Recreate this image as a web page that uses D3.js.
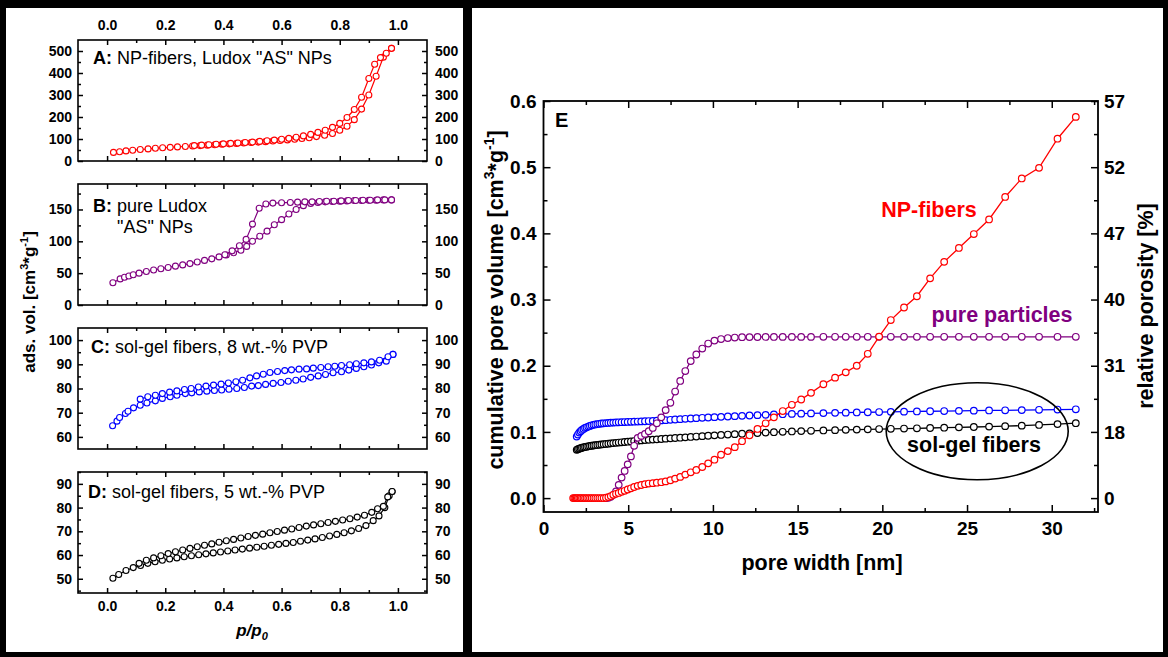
<!DOCTYPE html>
<html>
<head>
<meta charset="utf-8">
<script src="https://cdn.jsdelivr.net/npm/d3@7/dist/d3.min.js"></script>
<style>
html,body{margin:0;padding:0;background:#000;}
svg{display:block;}
</style>
</head>
<body>
<svg id="chart" width="1168" height="657"></svg>
<script>
// ================= DATA : panels A-D (N2 sorption isotherms) =================
const pTicks = [0.0, 0.2, 0.4, 0.6, 0.8, 1.0];
const pMinor = [0.1, 0.3, 0.5, 0.7, 0.9];

// A: NP-fibers, Ludox "AS" NPs
const aTicks = [0, 100, 200, 300, 400, 500];
const aMinor = [50, 150, 250, 350, 450];
const aAdsP = [0.022,0.043,0.065,0.088,0.114,0.141,0.166,0.191,0.217,0.242,0.269,0.294,0.32,0.345,0.37,0.395,0.42,0.445,0.47,0.495,0.52,0.545,0.57,0.595,0.62,0.645,0.67,0.695,0.72,0.748,0.775,0.8,0.825,0.85,0.875,0.9,0.925,0.95,0.978];
const aAdsV = [39,42,46,49,52,55,58,60,62,64,66,68,70,72,74,76,78,80,82,84,86,88,91,93,96,99,102,106,111,117,125,140,158,188,236,300,385,472,512];
const aDesP = [0.978,0.96,0.94,0.92,0.9,0.875,0.85,0.825,0.8,0.775,0.75,0.725,0.7,0.675,0.65,0.625,0.6,0.575,0.55,0.525,0.5,0.475,0.45,0.425,0.4,0.375,0.35,0.325,0.3];
const aDesV = [512,490,470,440,375,290,234,198,171,153,140,130,121,114,108,103,99,95,92,89,86,84,82,80,78,76,74,72,70];

// B: pure Ludox "AS" NPs
const bTicks = [0, 50, 100, 150];
const bMinor = [25, 75, 125, 175];
const bAdsP = [0.02,0.045,0.06,0.075,0.09,0.11,0.135,0.16,0.185,0.21,0.235,0.26,0.285,0.31,0.335,0.36,0.385,0.41,0.435,0.46,0.48,0.5,0.525,0.55,0.575,0.6,0.625,0.65,0.675,0.7,0.725,0.75,0.775,0.8,0.825,0.85,0.875,0.9,0.925,0.95,0.978];
const bAdsV = [35,41,43.5,45.5,47.5,50,52.5,55,57,59,61,63,65,67.5,70,72.5,75.5,78.5,82,86,92,100,108,116,126,134,143,150,156,159.5,161,162,162.5,163,163.5,164,164,164.5,164.5,165,165];
const bDesP = [0.978,0.955,0.93,0.905,0.88,0.855,0.83,0.805,0.78,0.755,0.73,0.705,0.68,0.655,0.63,0.6,0.57,0.546,0.523,0.5,0.478,0.455,0.43,0.405];
const bDesV = [165,165,165,164.5,164.5,164,164,163.5,163,163,162.5,162,162,161.5,161,160.5,160,158.5,152,127,103,93,85,79];

// C: sol-gel fibers, 8 wt.-% PVP
const cTicks = [60, 70, 80, 90, 100];
const cMinor = [65, 75, 85, 95];
const cAdsP = [0.019,0.034,0.043,0.063,0.072,0.091,0.114,0.137,0.166,0.19,0.217,0.24,0.269,0.291,0.317,0.343,0.369,0.394,0.419,0.446,0.472,0.497,0.52,0.545,0.571,0.598,0.623,0.649,0.674,0.70,0.726,0.751,0.777,0.806,0.831,0.857,0.883,0.909,0.934,0.96,0.983];
const cAdsV = [64.6,66.5,68,69.7,70.6,72,73.1,74,74.9,75.9,76.6,77.2,77.9,78.2,78.6,78.9,79.2,79.4,79.7,80,80.4,81,81.2,81.7,82.1,82.5,83,83.4,83.9,84.6,85.2,85.8,86.5,86.9,87.6,88.3,89,89.7,90.6,91.3,94.1];
const cDesP = [0.983,0.966,0.937,0.909,0.883,0.857,0.834,0.806,0.783,0.76,0.735,0.709,0.686,0.66,0.634,0.611,0.586,0.56,0.537,0.514,0.491,0.466,0.443,0.417,0.392,0.366,0.34,0.314,0.289,0.266,0.24,0.215,0.19,0.166,0.14,0.114];
const cDesV = [94.1,93.1,91.7,91,90.6,90.2,89.8,89.5,89.2,89,88.7,88.4,88.1,88,87.7,87.4,87,86.6,85.9,85.2,84.4,83.4,82.8,82.3,81.8,81.4,81,80.6,80,79.6,79,78.5,77.9,77.2,76.6,75.6];

// D: sol-gel fibers, 5 wt.-% PVP
const dTicks = [50, 60, 70, 80, 90];
const dMinor = [45, 55, 65, 75, 85, 95];
const dAdsP = [0.02,0.04,0.065,0.09,0.115,0.14,0.165,0.19,0.215,0.24,0.265,0.29,0.315,0.34,0.365,0.39,0.415,0.44,0.465,0.49,0.515,0.54,0.565,0.59,0.615,0.64,0.665,0.69,0.715,0.74,0.765,0.79,0.815,0.84,0.865,0.89,0.915,0.935,0.955,0.97,0.98];
const dAdsV = [50.2,51.8,53.5,54.7,55.6,56.5,57.2,57.8,58.3,58.8,59.3,59.7,60.1,60.5,60.9,61.3,61.7,62.1,62.5,62.9,63.3,63.7,64.1,64.5,64.9,65.3,65.8,66.3,66.8,67.4,68,68.7,69.4,70.2,71.2,72.4,74.5,76.5,80,85,86.8];
const dDesP = [0.98,0.965,0.95,0.93,0.91,0.885,0.86,0.835,0.81,0.785,0.76,0.735,0.71,0.685,0.66,0.635,0.61,0.585,0.56,0.535,0.51,0.485,0.46,0.435,0.41,0.385,0.36,0.335,0.31,0.285,0.26,0.235,0.21,0.185,0.16,0.135,0.11];
const dDesV = [86.8,84.5,80.5,79.5,78,76.8,76,75.3,74.8,74.2,73.7,73.2,72.7,72.2,71.6,71,70.5,69.9,69.4,68.8,68.3,67.8,67.2,66.6,66,65.4,64.7,64.1,63.5,62.8,62.1,61.4,60.6,59.7,58.8,57.8,56.5];

// ================= DATA : panel E (cumulative pore volume) =================
const widthTicks = [0, 5, 10, 15, 20, 25, 30];
const widthMinor = [2.5, 7.5, 12.5, 17.5, 22.5, 27.5, 32.5];
const volTicks = [0.0, 0.1, 0.2, 0.3, 0.4, 0.5, 0.6];
const volMinor = [0.05, 0.15, 0.25, 0.35, 0.45, 0.55];
const porosityLabels = ["0", "18", "31", "40", "47", "52", "57"];

const poreWidth = [1.75,1.82,1.89,1.96,2.03,2.11,2.19,2.27,2.36,2.45,2.54,2.64,2.74,2.84,2.95,3.06,3.18,3.30,3.42,3.55,3.69,3.83,3.97,4.12,4.28,4.44,4.61,4.79,4.97,5.16,5.35,5.56,5.77,5.99,6.21,6.45,6.69,6.95,7.21,7.49,7.77,8.07,8.37,8.69,9.02,9.37,9.72,10.09,10.48,10.88,11.29,11.72,12.16,12.63,13.11,13.60,14.12,14.66,15.21,15.79,16.52,17.21,17.84,18.49,19.14,19.81,20.50,21.28,22.04,22.82,23.65,24.52,25.40,26.30,27.25,28.23,29.25,30.34,31.42];

const volNPfibers = [0,0,0,0,0,0,0,0,0,0,0,0,0,0,0,0,0,0,0,0,
 0.0005,0.0015,0.003,0.005,0.0065,0.0078,0.0095,0.011,0.013,0.0148,0.0168,0.0185,0.0198,0.021,0.022,0.0226,0.0233,0.024,0.0252,0.027,
 0.0295,0.032,0.0355,0.039,0.0425,0.047,0.0525,0.058,0.0655,0.071,0.077,0.086,0.095,0.1045,0.113,0.122,0.1315,0.141,0.149,0.159,
 0.172,0.182,0.190,0.200,0.218,0.244,0.269,0.288,0.305,0.332,0.357,0.378,0.399,0.421,0.455,0.483,0.499,0.543,0.576];

const volPureParticles = [null,null,null,null,null,null,null,null,null,null,null,null,null,null,null,null,null,null,null,null,
 0,0.0005,0.002,0.005,0.010,0.020,0.031,0.041,0.051,0.063,0.079,0.091,0.094,0.097,0.101,0.106,0.113,0.122,0.133,0.144,
 0.161,0.177,0.192,0.207,0.217,0.226,0.2335,0.238,0.2403,0.2418,0.2426,0.2431,0.2433,0.2434,0.2435,0.2435,0.2436,0.2436,0.2436,0.2436,
 0.2437,0.2437,0.2437,0.2437,0.2437,0.2437,0.2437,0.2437,0.2437,0.2437,0.2437,0.2437,0.2437,0.2437,0.2437,0.2437,0.2437,0.2437,0.2437];

const volSolGel8 = [null,null,null,
 0.093,0.096,0.099,0.101,0.103,0.1045,0.106,0.107,0.108,0.109,0.110,0.1107,0.1113,0.1118,0.1123,0.1127,0.113,
 0.1133,0.1136,0.1139,0.1141,0.1143,0.1145,0.1147,0.1149,0.1151,0.1153,0.1155,0.1157,0.1159,0.1161,0.1164,0.1167,0.117,0.1174,0.1178,0.1183,
 0.1188,0.1193,0.1198,0.1203,0.1208,0.1213,0.1218,0.1223,0.1228,0.1233,0.1238,0.1243,0.1248,0.1253,0.1258,0.1263,0.1268,0.1272,0.1276,0.128,
 0.1284,0.1288,0.1291,0.1294,0.1297,0.13,0.1303,0.1306,0.1309,0.1312,0.1315,0.1318,0.1321,0.1324,0.1327,0.133,0.1334,0.1338,0.1342];

const volSolGel5 = [null,null,null,
 0.073,0.0738,0.0746,0.0754,0.0761,0.0767,0.0772,0.0777,0.0782,0.0787,0.0791,0.0795,0.0799,0.0803,0.0807,0.0811,0.0815,
 0.0819,0.0823,0.0827,0.0831,0.0835,0.0839,0.0843,0.0848,0.0852,0.0857,0.0862,0.0867,0.0872,0.0876,0.088,0.0884,0.0888,0.0893,0.0898,0.0903,
 0.0908,0.0913,0.0918,0.0924,0.093,0.0936,0.0942,0.0948,0.0954,0.096,0.0966,0.0972,0.0978,0.0984,0.099,0.0996,0.1002,0.1007,0.1012,0.1017,
 0.1022,0.1027,0.1031,0.1035,0.1039,0.1043,0.1047,0.1051,0.1055,0.1059,0.1064,0.1069,0.1074,0.108,0.1087,0.1095,0.1105,0.1118,0.1132];

// ================= DRAWING =================
const FONT = '"Liberation Sans", Arial, Helvetica, sans-serif';
const svg = d3.select("#chart");

svg.append("rect").attr("x", 0).attr("y", 0).attr("width", 1168).attr("height", 657).attr("fill", "#000");
svg.append("rect").attr("x", 6).attr("y", 8).attr("width", 457).attr("height", 644).attr("fill", "#fff");
svg.append("rect").attr("x", 472).attr("y", 8).attr("width", 691).attr("height", 644).attr("fill", "#fff");

function styleAxis(sel, fs) {
  sel.attr("font-size", null).attr("font-family", null);
  sel.select(".domain").remove();
  sel.selectAll(".tick line").attr("stroke", "#000").attr("stroke-width", 1.5);
  sel.selectAll(".tick text").attr("fill", "#000")
    .style("font-size", fs + "px").style("font-weight", "bold").style("font-family", FONT);
}

function richText(parent, x, y, parts, fs, opt) {
  opt = opt || {};
  const t = parent.append("text").attr("x", x).attr("y", y)
    .style("font-family", FONT).style("font-size", fs + "px")
    .style("font-weight", opt.bold ? "bold" : "normal")
    .style("font-style", opt.italic ? "italic" : "normal")
    .attr("fill", opt.color || "#000")
    .attr("text-anchor", opt.anchor || "start");
  if (opt.rotate) t.attr("transform", `rotate(${opt.rotate},${x},${y})`);
  let shift = 0;
  parts.forEach(p => {
    const ts = t.append("tspan").text(p.t);
    const target = p.sup ? -0.42 * fs : (p.sub ? 0.22 * fs : 0);
    if (target - shift !== 0) ts.attr("dy", (target - shift).toFixed(2));
    shift = target;
    if (p.sup || p.sub) ts.style("font-size", (fs * 0.65) + "px");
    if (p.b) ts.style("font-weight", "bold");
  });
  return t;
}

// ---------- Left: panels A-D ----------
const xL = d3.scaleLinear().domain([-0.1, 1.1]).range([78, 427]);
const panelH = 121;
const fmtP = d3.format(".1f");

const panels = [
  { top: 40,  domain: [0, 550],  ticks: aTicks, minor: aMinor, color: "#ff0000", ads: [aAdsP, aAdsV], des: [aDesP, aDesV],
    label: [[{ t: "A:", b: true }, { t: " NP-fibers, Ludox \"AS\" NPs" }]], lx: [93], ly: [64] },
  { top: 184, domain: [0, 190],  ticks: bTicks, minor: bMinor, color: "#800080", ads: [bAdsP, bAdsV], des: [bDesP, bDesV],
    label: [[{ t: "B:", b: true }, { t: " pure Ludox" }], [{ t: "\"AS\" NPs" }]], lx: [93, 117], ly: [211.5, 232.5] },
  { top: 328, domain: [55, 105], ticks: cTicks, minor: cMinor, color: "#0000ff", ads: [cAdsP, cAdsV], des: [cDesP, cDesV],
    label: [[{ t: "C:", b: true }, { t: " sol-gel fibers, 8 wt.-% PVP" }]], lx: [91], ly: [352.5] },
  { top: 472, domain: [44, 95],  ticks: dTicks, minor: dMinor, color: "#000000", ads: [dAdsP, dAdsV], des: [dDesP, dDesV],
    label: [[{ t: "D:", b: true }, { t: " sol-gel fibers, 5 wt.-% PVP" }]], lx: [88], ly: [497.5] }
];

panels.forEach((pd, pi) => {
  const bottom = pd.top + panelH;
  const y = d3.scaleLinear().domain(pd.domain).range([bottom, pd.top]);
  const g = svg.append("g");

  // data
  const line = d3.line().x(d => xL(d[0])).y(d => y(d[1]));
  [pd.ads, pd.des].forEach(([P, V]) => {
    const pts = P.map((p, i) => [p, V[i]]);
    g.append("path").datum(pts).attr("d", line).attr("fill", "none")
      .attr("stroke", pd.color).attr("stroke-width", 1.2);
    g.selectAll(null).data(pts).enter().append("circle")
      .attr("cx", d => xL(d[0])).attr("cy", d => y(d[1])).attr("r", 3)
      .attr("fill", "#fff").attr("stroke", pd.color).attr("stroke-width", 1.1);
  });

  // axes (ticks inward)
  g.append("g").attr("transform", "translate(78,0)")
    .call(d3.axisLeft(y).tickValues(pd.ticks).tickSize(-5).tickPadding(6)).call(styleAxis, 14);
  g.append("g").attr("transform", "translate(78,0)")
    .call(d3.axisLeft(y).tickValues(pd.minor.filter(v => v >= pd.domain[0] && v <= pd.domain[1])).tickSize(-3).tickFormat("")).call(styleAxis, 14);
  g.append("g").attr("transform", "translate(427,0)")
    .call(d3.axisRight(y).tickValues(pd.ticks).tickSize(-5).tickPadding(8)).call(styleAxis, 14);
  g.append("g").attr("transform", "translate(427,0)")
    .call(d3.axisRight(y).tickValues(pd.minor.filter(v => v >= pd.domain[0] && v <= pd.domain[1])).tickSize(-3).tickFormat("")).call(styleAxis, 14);

  g.append("g").attr("transform", `translate(0,${pd.top})`)
    .call(d3.axisTop(xL).tickValues(pTicks).tickSize(-5).tickPadding(10.5).tickFormat(pi === 0 ? fmtP : () => "")).call(styleAxis, 14);
  g.append("g").attr("transform", `translate(0,${pd.top})`)
    .call(d3.axisTop(xL).tickValues(pMinor).tickSize(-3).tickFormat("")).call(styleAxis, 14);
  g.append("g").attr("transform", `translate(0,${bottom})`)
    .call(d3.axisBottom(xL).tickValues(pTicks).tickSize(-5).tickPadding(8).tickFormat(pi === 3 ? fmtP : () => "")).call(styleAxis, 14);
  g.append("g").attr("transform", `translate(0,${bottom})`)
    .call(d3.axisBottom(xL).tickValues(pMinor).tickSize(-3).tickFormat("")).call(styleAxis, 14);

  g.append("rect").attr("x", 78).attr("y", pd.top).attr("width", 349).attr("height", panelH)
    .attr("fill", "none").attr("stroke", "#000").attr("stroke-width", 1.6);

  pd.label.forEach((parts, li) => richText(g, pd.lx[li], pd.ly[li], parts, 18));
});

// left axis titles
richText(svg, 35, 302, [{ t: "ads. vol. [cm" }, { t: "3", sup: true }, { t: "*g" }, { t: "-1", sup: true }, { t: "]" }], 17,
  { bold: true, anchor: "middle", rotate: -90 });
richText(svg, 252, 636, [{ t: "p/p" }, { t: "0", sub: true }], 17, { bold: true, italic: true, anchor: "middle" });

// ---------- Right: panel E ----------
const xE = d3.scaleLinear().domain([0, 32.73]).range([543.5, 1098]);
const yE = d3.scaleLinear().domain([-0.021, 0.6]).range([512, 101]);
const gE = svg.append("g");

const seriesE = [
  { vals: volSolGel8, color: "#0000ff" },
  { vals: volSolGel5, color: "#000000" },
  { vals: volPureParticles, color: "#800080" },
  { vals: volNPfibers, color: "#ff0000" }
];
const lineE = d3.line().defined(d => d[1] !== null).x(d => xE(d[0])).y(d => yE(d[1]));
seriesE.forEach(s => {
  const pts = poreWidth.map((w, i) => [w, s.vals[i]]).filter(d => d[1] !== null);
  gE.append("path").datum(pts).attr("d", lineE).attr("fill", "none")
    .attr("stroke", s.color).attr("stroke-width", 1.3);
  gE.selectAll(null).data(pts).enter().append("circle")
    .attr("cx", d => xE(d[0])).attr("cy", d => yE(d[1])).attr("r", 3.3)
    .attr("fill", "#fff").attr("stroke", s.color).attr("stroke-width", 1.2);
});

// axes E
gE.append("g").attr("transform", "translate(0,512)")
  .call(d3.axisBottom(xE).tickValues(widthTicks).tickSize(-7).tickPadding(10)).call(styleAxis, 19);
gE.append("g").attr("transform", "translate(0,512)")
  .call(d3.axisBottom(xE).tickValues(widthMinor).tickSize(-4).tickFormat("")).call(styleAxis, 19);
gE.append("g").attr("transform", "translate(0,101)")
  .call(d3.axisTop(xE).tickValues(widthTicks).tickSize(-7).tickFormat("")).call(styleAxis, 19);
gE.append("g").attr("transform", "translate(0,101)")
  .call(d3.axisTop(xE).tickValues(widthMinor).tickSize(-4).tickFormat("")).call(styleAxis, 19);
gE.append("g").attr("transform", "translate(543.5,0)")
  .call(d3.axisLeft(yE).tickValues(volTicks).tickSize(-7).tickPadding(7).tickFormat(d3.format(".1f"))).call(styleAxis, 19);
gE.append("g").attr("transform", "translate(543.5,0)")
  .call(d3.axisLeft(yE).tickValues(volMinor).tickSize(-4).tickFormat("")).call(styleAxis, 19);
gE.append("g").attr("transform", "translate(1098,0)")
  .call(d3.axisRight(yE).tickValues(volTicks).tickSize(-7).tickPadding(6).tickFormat((d, i) => porosityLabels[i])).call(styleAxis, 19);
gE.append("g").attr("transform", "translate(1098,0)")
  .call(d3.axisRight(yE).tickValues(volMinor).tickSize(-4).tickFormat("")).call(styleAxis, 19);

gE.append("rect").attr("x", 543.5).attr("y", 101).attr("width", 1098 - 543.5).attr("height", 411)
  .attr("fill", "none").attr("stroke", "#000").attr("stroke-width", 1.8);

// annotations E
richText(gE, 555, 127, [{ t: "E" }], 20, { bold: true });
richText(gE, 929, 217, [{ t: "NP-fibers" }], 21.5, { bold: true, anchor: "middle", color: "#ff0000" });
richText(gE, 1002, 322, [{ t: "pure particles" }], 21.5, { bold: true, anchor: "middle", color: "#800080" });
richText(gE, 974, 452, [{ t: "sol-gel fibers" }], 21.5, { bold: true, anchor: "middle" });
gE.append("ellipse").attr("cx", xE(25.6)).attr("cy", yE(0.101)).attr("rx", 91).attr("ry", 48.5)
  .attr("fill", "none").attr("stroke", "#000").attr("stroke-width", 1.6);

// E axis titles
richText(svg, 822, 570, [{ t: "pore width [nm]" }], 21.5, { bold: true, anchor: "middle" });
richText(svg, 503, 300, [{ t: "cumulative pore volume [cm" }, { t: "3", sup: true }, { t: "*g" }, { t: "-1", sup: true }, { t: "]" }], 21.5,
  { bold: true, anchor: "middle", rotate: -90 });
richText(svg, 1153, 306, [{ t: "relative porosity [%]" }], 21.5, { bold: true, anchor: "middle", rotate: -90 });
</script>
</body>
</html>
